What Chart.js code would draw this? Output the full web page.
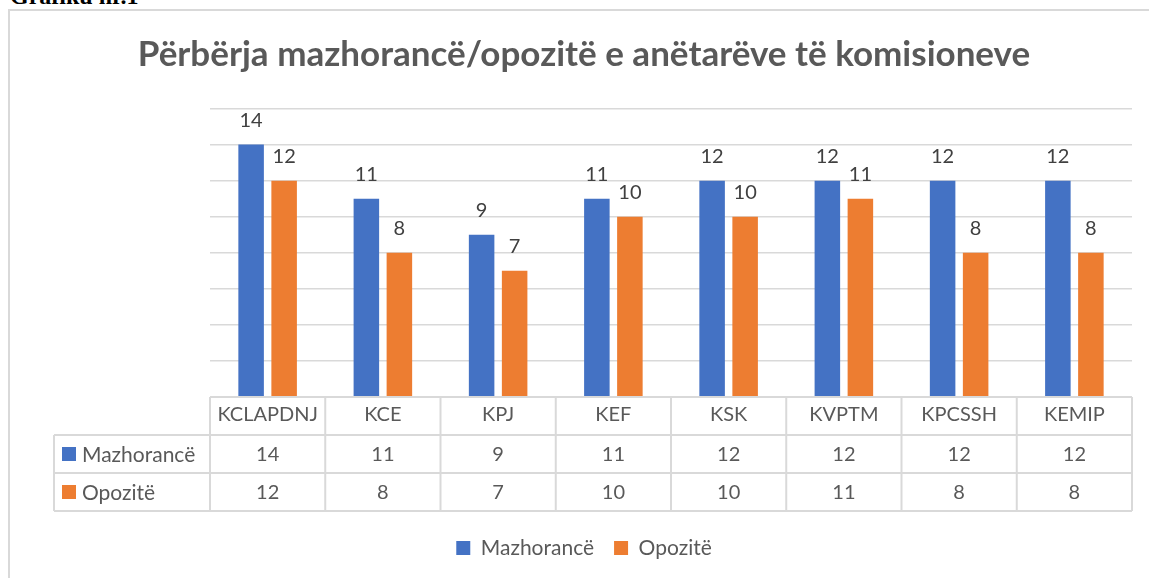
<!DOCTYPE html>
<html>
<head>
<meta charset="utf-8">
<script src="https://cdn.jsdelivr.net/npm/chart.js@4.4.1/dist/chart.umd.min.js"></script>
<style>
  html, body { margin: 0; padding: 0; background: #fff; overflow: hidden; }
  #caption {
    position: absolute; left: 10px; top: -16px;
    font: bold 24px "Liberation Serif", serif; line-height: 24px; color: #000;
  }
  #frame {
    position: absolute; left: 8px; top: 9px; width: 1200px; height: 700px;
    border: 2px solid #d9d9d9; box-sizing: border-box;
  }
  #wrap { position: absolute; left: 0; top: 0; width: 1149px; height: 578px; }
</style>
</head>
<body>
<div id="caption">Grafiku nr.1</div>
<div id="frame"></div>
<div id="wrap"><canvas id="myChart"></canvas></div>
<script>
// te dhenat
const titleText = 'Përbërja mazhorancë/opozitë e anëtarëve të komisioneve';
const categories = ['KCLAPDNJ', 'KCE', 'KPJ', 'KEF', 'KSK', 'KVPTM', 'KPCSSH', 'KEMIP'];
const seriesNames = ['Mazhorancë', 'Opozitë'];
const mazhoranca = [14, 11, 9, 11, 12, 12, 12, 12];
const opozita = [12, 8, 7, 10, 10, 11, 8, 8];
const colors = ['#4472C4', '#ED7D31'];

const FONT = 'Lato, "Open Sans", sans-serif';
const TEXT = '#595959';
const LINE = '#d9d9d9';
const ROW_H = 38;

// etiketat mbi shtylla
const valueLabels = {
    id: 'valueLabels',
    afterDatasetsDraw(chart) {
        const ctx = chart.ctx;
        ctx.save();
        ctx.font = '20px ' + FONT;
        ctx.fillStyle = '#404040';
        ctx.textAlign = 'center';
        ctx.textBaseline = 'alphabetic';
        chart.data.datasets.forEach((ds, di) => {
            chart.getDatasetMeta(di).data.forEach((bar, i) => {
                ctx.fillText(String(ds.data[i]), bar.x, bar.y - 18);
            });
        });
        ctx.restore();
    }
};

// tabela e te dhenave poshte grafikut
const dataTable = {
    id: 'dataTable',
    afterDraw(chart) {
        const ctx = chart.ctx;
        const area = chart.chartArea;
        const x = chart.scales.x;
        const n = categories.length;
        const w = (area.right - area.left) / n;
        const top = area.bottom;
        const legendLeft = 54;
        ctx.save();
        ctx.strokeStyle = LINE;
        ctx.lineWidth = 2;
        ctx.beginPath();
        ctx.moveTo(area.left, top);
        ctx.lineTo(area.right, top);
        for (let r = 1; r <= 3; r++) {
            ctx.moveTo(legendLeft, top + r * ROW_H);
            ctx.lineTo(area.right, top + r * ROW_H);
        }
        for (let i = 0; i <= n; i++) {
            ctx.moveTo(area.left + i * w, top);
            ctx.lineTo(area.left + i * w, top + 3 * ROW_H);
        }
        ctx.moveTo(legendLeft, top + ROW_H);
        ctx.lineTo(legendLeft, top + 3 * ROW_H);
        ctx.stroke();

        ctx.fillStyle = TEXT;
        ctx.textBaseline = 'middle';
        chart.data.datasets.forEach((ds, di) => {
            const cy = top + ROW_H * (di + 1) + ROW_H / 2;
            ctx.fillStyle = ds.backgroundColor;
            ctx.fillRect(legendLeft + 8, cy - 7, 14, 14);
            ctx.fillStyle = TEXT;
            ctx.textAlign = 'left';
            ctx.font = '21px ' + FONT;
            ctx.fillText(ds.label, legendLeft + 28, cy + 1);
            ctx.textAlign = 'center';
            ctx.font = '20px ' + FONT;
            ds.data.forEach((v, i) => {
                ctx.fillText(String(v), x.getPixelForValue(i), cy + 1);
            });
        });
        ctx.restore();
    }
};

const ctx = document.getElementById('myChart');

new Chart(ctx, {
    type: 'bar',
    data: {
        labels: categories,
        datasets: [
            { label: seriesNames[0], data: mazhoranca, backgroundColor: colors[0] },
            { label: seriesNames[1], data: opozita, backgroundColor: colors[1] }
        ]
    },
    options: {
        responsive: true,
        maintainAspectRatio: false,
        animation: false,
        categoryPercentage: 0.573,
        barPercentage: 0.773,
        layout: { padding: { left: 36, right: 17, top: 0, bottom: 9.5 } },
        plugins: {
            title: {
                display: true,
                text: titleText,
                color: TEXT,
                font: { family: FONT, size: 35, weight: 'bold', lineHeight: 1.2 },
                padding: { top: 34, bottom: 32.5 }
            },
            legend: {
                position: 'bottom',
                labels: {
                    color: TEXT,
                    font: { family: FONT, size: 21 },
                    boxWidth: 14,
                    boxHeight: 14,
                    padding: 20
                }
            },
            tooltip: { enabled: false }
        },
        scales: {
            x: {
                grid: { display: false, drawTicks: false },
                border: { display: false },
                ticks: { color: TEXT, font: { family: FONT, size: 20 }, padding: 6, maxRotation: 0 },
                afterFit(scale) { scale.height = 120.5; }
            },
            y: {
                min: 0,
                max: 16,
                ticks: { display: false, stepSize: 2 },
                grid: { color: LINE, lineWidth: 1.5, drawTicks: false },
                border: { display: false },
                afterFit(scale) { scale.width = 174; }
            }
        }
    },
    plugins: [valueLabels, dataTable]
});
</script>
</body>
</html>
